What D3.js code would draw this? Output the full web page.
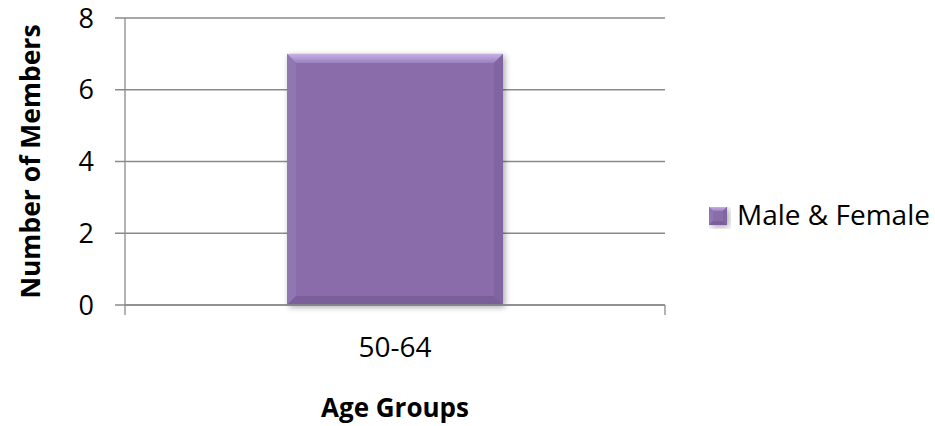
<!DOCTYPE html>
<html><head><meta charset="utf-8">
<script src="https://cdn.jsdelivr.net/npm/d3@7"></script>
<style>body{margin:0;background:#fff}svg{display:block}text{font-family:"Open Sans",sans-serif;fill:#000}</style>
</head><body><svg id="c" width="935" height="426"></svg>
<script>
const categories = ["50-64"];
const values = [7];
const seriesName = "Male & Female";
const yTicks = [0, 2, 4, 6, 8];
const yTitle = "Number of Members";
const xTitle = "Age Groups";

const svg = d3.select("#c");
const L = 125, R = 665, T = 18, B = 305;
const y = d3.scaleLinear().domain([0, 8]).range([B, T]);
const x = d3.scaleBand().domain(categories).range([L, R]);
const barW = x.step() / 2.5;
const grid = "#8a8a8a";

const defs = svg.append("defs");
const f = defs.append("filter").attr("id","sh").attr("x","-10%").attr("y","-10%").attr("width","130%").attr("height","130%");
f.append("feGaussianBlur").attr("in","SourceAlpha").attr("stdDeviation",3);
f.append("feOffset").attr("dx",2).attr("dy",2).attr("result","b");
f.append("feComponentTransfer").append("feFuncA").attr("type","linear").attr("slope",0.35);
const m = f.append("feMerge"); m.append("feMergeNode"); m.append("feMergeNode").attr("in","SourceGraphic");

const tg = defs.append("linearGradient").attr("id","topg").attr("x1",0).attr("y1",0).attr("x2",0).attr("y2",1);
tg.append("stop").attr("offset","0%").attr("stop-color","#c6b2e4");
tg.append("stop").attr("offset","100%").attr("stop-color","#9b80c0");

// gridlines
svg.append("g").selectAll("line").data(yTicks).join("line")
  .attr("x1", L - 10).attr("x2", R).attr("y1", d => y(d)).attr("y2", d => y(d))
  .attr("stroke", grid).attr("stroke-width", 1.3);

// bars with bevel
function bevelRect(g, x0, y0, w, h, s) {
  g.append("rect").attr("x", x0).attr("y", y0).attr("width", w).attr("height", h).attr("fill", "#8a6cab").attr("filter","url(#sh)");
  const x1 = x0 + w, y1 = y0 + h;
  const poly = (pts, c) => g.append("polygon").attr("points", pts.map(p => p.join(",")).join(" ")).attr("fill", c);
  poly([[x0,y0],[x1,y0],[x1-s,y0+s],[x0+s,y0+s]], "url(#topg)");
  poly([[x0,y0],[x0+s,y0+s],[x0+s,y1-s],[x0,y1]], "#9077b1");
  poly([[x1,y0],[x1,y1],[x1-s,y1-s],[x1-s,y0+s]], "#8065a1");
  poly([[x0,y1],[x0+s,y1-s],[x1-s,y1-s],[x1,y1]], "#7b5f9a");
}
const bars = svg.append("g");
categories.forEach((c, i) => {
  const x0 = x(c) + (x.bandwidth() - barW) / 2;
  bevelRect(bars, x0, y(values[i]), barW, y(0) - y(values[i]), 9);
});

// axes
svg.append("line").attr("x1", L).attr("x2", L).attr("y1", T).attr("y2", B + 10).attr("stroke", grid).attr("stroke-width", 1.3);
svg.append("line").attr("x1", L).attr("x2", R).attr("y1", B).attr("y2", B).attr("stroke", grid).attr("stroke-width", 1.3);
svg.append("line").attr("x1", R).attr("x2", R).attr("y1", B).attr("y2", B + 10).attr("stroke", grid).attr("stroke-width", 1.3);

// y labels
svg.append("g").selectAll("text").data(yTicks).join("text")
  .attr("x", 94).attr("y", d => y(d)).attr("dy", "0.36em").attr("text-anchor", "end")
  .style("font-size", "27px").text(d => d);

// x labels
svg.append("g").selectAll("text").data(categories).join("text")
  .attr("x", d => x(d) + x.bandwidth() / 2).attr("y", 357).attr("text-anchor", "middle")
  .style("font-size", "28px").text(d => d);

// titles
svg.append("text").attr("x", (L + R) / 2).attr("y", 417).attr("text-anchor", "middle")
  .style("font-size", "26px").style("font-weight", "bold").text(xTitle);
svg.append("text").attr("transform", `translate(40,${(T + B) / 2}) rotate(-90)`).attr("text-anchor", "middle")
  .style("font-size", "26.5px").style("font-weight", "bold").text(yTitle);

// legend
const lg = svg.append("g");
bevelRect(lg, 709, 207, 18, 18, 4);
lg.append("text").attr("x", 737).attr("y", 225).style("font-size", "28px").text(seriesName);
</script></body></html>
